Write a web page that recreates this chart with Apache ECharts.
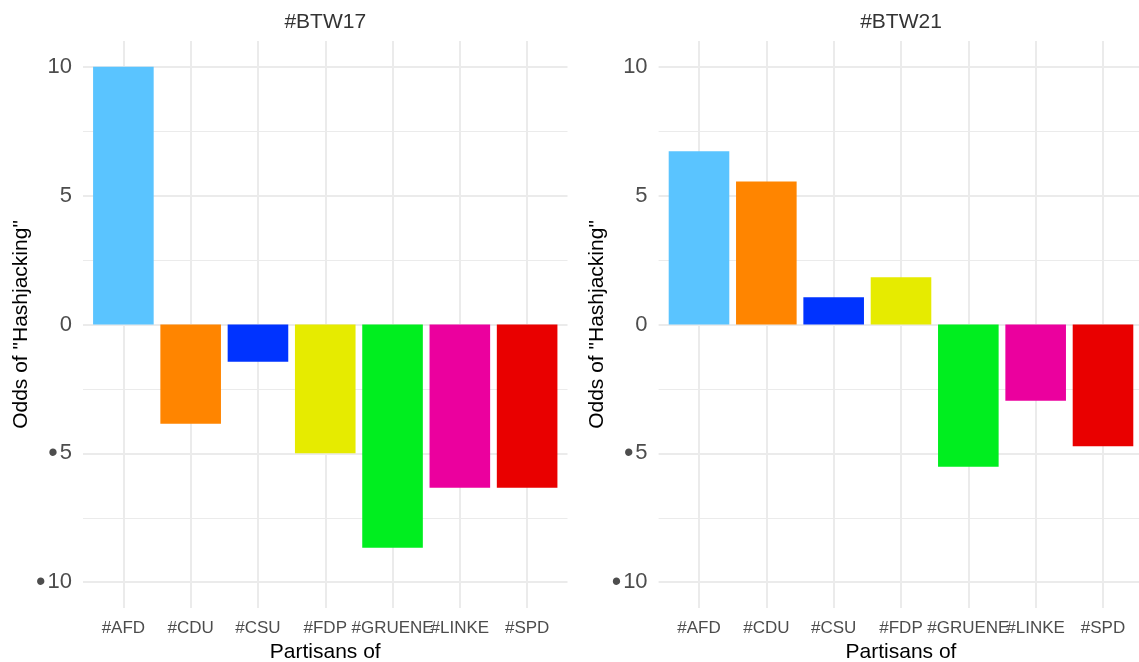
<!DOCTYPE html>
<html>
<head>
<meta charset="utf-8">
<script src="https://cdn.jsdelivr.net/npm/echarts@6/dist/echarts.min.js"></script>
<style>
  html, body { margin: 0; padding: 0; background: #fff; }
  #chart { width: 1139px; height: 662px; }
</style>
</head>
<body>
<div id="chart"></div>
<script>
// Hashjacking odds per party, two elections side by side

const parties = ["#AFD", "#CDU", "#CSU", "#FDP", "#GRUENE", "#LINKE", "#SPD"];
const partyColors = ["#5AC4FF", "#FF8500", "#0033FF", "#E6EB00", "#00EE1F", "#EB009E", "#E90000"];
const btw17 = [10, -3.85, -1.45, -5.0, -8.66, -6.33, -6.33];
const btw21 = [6.72, 5.55, 1.06, 1.83, -5.52, -2.96, -4.72];
const panelTitles = ["#BTW17", "#BTW21"];
const majorTicks = [-10, -5, 0, 5, 10];
const minorTicks = [-7.5, -2.5, 2.5, 7.5];
const partyIdx = [0, 1, 2, 3, 4, 5, 6];

const FONT = "'Liberation Sans', Arial, Helvetica, sans-serif";
const GRID_COL = "#ebebeb";

const chart = echarts.init(document.getElementById("chart"));

// fixed panel boxes, no auto shrinking for labels
const grids = [
  { left: 83, top: 41, width: 484.5, height: 567, outerBoundsMode: "none", containLabel: false },
  { left: 658.6, top: 41, width: 484.8, height: 567, outerBoundsMode: "none", containLabel: false }
];

function fmtY(v) {
  // the minus sign comes out as a bullet in the original render
  return v < 0 ? "{b|\u2022}{n|" + Math.abs(v) + "}" : "{n|" + v + "}";
}

const xAxes = grids.map((g, i) => ({
  type: "value",
  gridIndex: i,
  min: -0.6,
  max: 6.6,
  name: "Partisans of",
  nameLocation: "middle",
  nameGap: 28,
  nameTextStyle: { fontFamily: FONT, fontSize: 21, color: "#000" },
  axisLine: { show: false },
  axisTick: { show: false, customValues: partyIdx },
  axisLabel: {
    customValues: partyIdx,
    formatter: v => parties[v],
    fontFamily: FONT, fontSize: 17, color: "#4d4d4d", margin: 12
  },
  splitLine: { show: true, lineStyle: { color: GRID_COL, width: 2 } }
}));

const yAxes = [];
grids.forEach((g, i) => {
  yAxes.push({
    type: "value",
    gridIndex: i,
    min: -11,
    max: 11,
    position: "left",
    name: 'Odds of "Hashjacking"',
    nameLocation: "middle",
    nameGap: 47,
    nameTextStyle: { fontFamily: FONT, fontSize: 21, color: "#000" },
    axisLine: { show: false },
    axisTick: { show: false, customValues: majorTicks },
    axisLabel: {
      customValues: majorTicks,
      formatter: fmtY,
      margin: 11,
      rich: {
        n: { fontFamily: FONT, fontSize: 22, color: "#4d4d4d" },
        b: { fontFamily: FONT, fontSize: 27, color: "#4d4d4d", padding: [0, 2, 0, 0] }
      }
    },
    splitLine: { show: true, lineStyle: { color: GRID_COL, width: 2 } }
  });
  // minor grid lines
  yAxes.push({
    type: "value",
    gridIndex: i,
    min: -11,
    max: 11,
    position: "left",
    axisLine: { show: false },
    axisTick: { show: false, customValues: minorTicks },
    axisLabel: { show: false, customValues: minorTicks },
    splitLine: { show: true, lineStyle: { color: GRID_COL, width: 1.2 } }
  });
});

function barData(vals) {
  return vals.map((v, i) => ({ value: [i, v], itemStyle: { color: partyColors[i] } }));
}

chart.setOption({
  animation: false,
  backgroundColor: "#fff",
  grid: grids,
  xAxis: xAxes,
  yAxis: yAxes,
  graphic: panelTitles.map((t, i) => ({
    type: "text",
    x: grids[i].left + grids[i].width / 2,
    y: 22,
    style: {
      text: t,
      fontFamily: FONT,
      fontSize: 21,
      fill: "#333",
      textAlign: "center",
      textVerticalAlign: "middle"
    }
  })),
  series: [
    { name: panelTitles[0], type: "bar", xAxisIndex: 0, yAxisIndex: 0, barWidth: 60.6, data: barData(btw17) },
    { name: panelTitles[1], type: "bar", xAxisIndex: 1, yAxisIndex: 2, barWidth: 60.6, data: barData(btw21) }
  ]
});
</script>
</body>
</html>
